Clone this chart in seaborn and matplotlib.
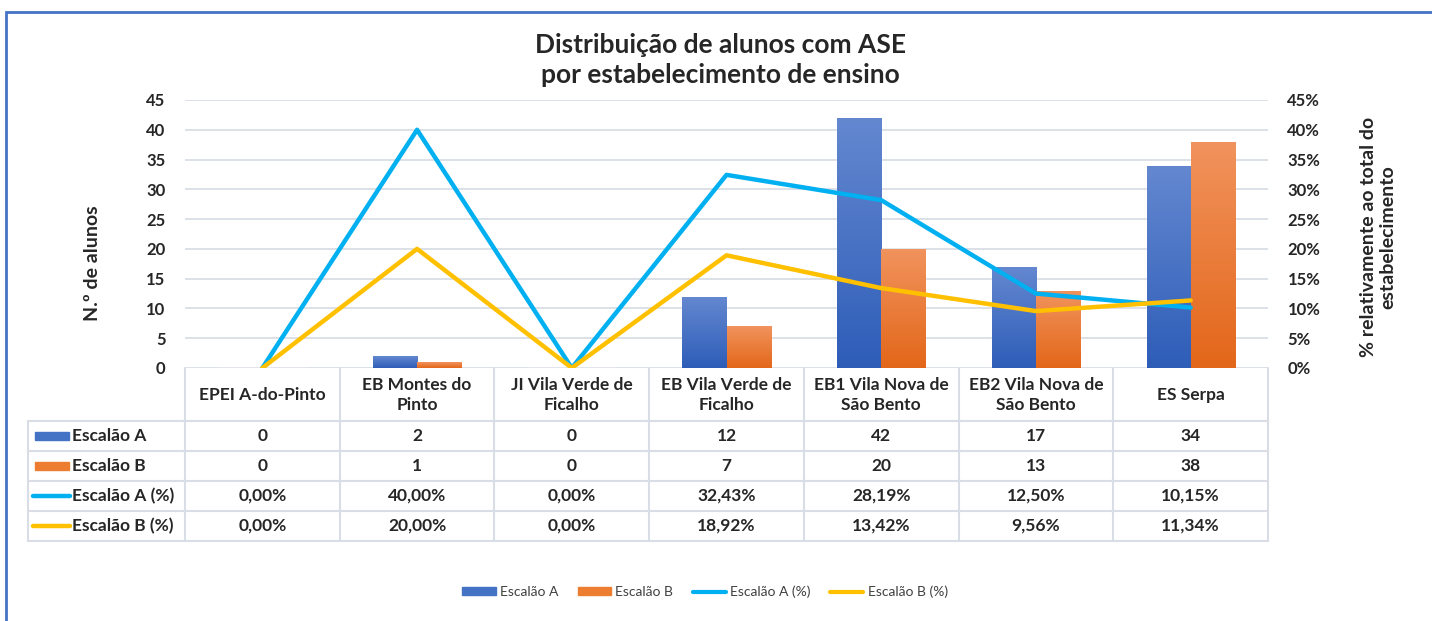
import numpy as np
import pandas as pd
import seaborn as sns
import matplotlib.pyplot as plt
from matplotlib.patches import Patch, Rectangle
from matplotlib.lines import Line2D
from matplotlib.colors import LinearSegmentedColormap
from matplotlib.transforms import blended_transform_factory

# dados
escolas = ['EPEI A-do-Pinto', 'EB Montes do\nPinto', 'JI Vila Verde de\nFicalho',
           'EB Vila Verde de\nFicalho', 'EB1 Vila Nova de\nSão Bento',
           'EB2 Vila Nova de\nSão Bento', 'ES Serpa']
escalao_a = [0, 2, 0, 12, 42, 17, 34]
escalao_b = [0, 1, 0, 7, 20, 13, 38]
escalao_a_pct = [0.0, 40.0, 0.0, 32.43, 28.19, 12.50, 10.15]
escalao_b_pct = [0.0, 20.0, 0.0, 18.92, 13.42, 9.56, 11.34]
series = ['Escalão A', 'Escalão B', 'Escalão A (%)', 'Escalão B (%)']

cor_a, cor_b = '#4472C4', '#ED7D31'
cor_a_pct, cor_b_pct = '#00B0F0', '#FFC000'
cor_grelha = '#D9DEE6'

sns.set_theme(style='white')
plt.rcParams['font.family'] = ['Lato', 'DejaVu Sans']

W, H = 1432, 621
fig = plt.figure(figsize=(W / 100, H / 100), dpi=100)
ax = fig.add_axes([185 / W, 1 - 368 / H, 1083 / W, 268 / H])

barras = pd.DataFrame({
    'escola': escolas * 2,
    'alunos': escalao_a + escalao_b,
    'serie': [series[0]] * len(escolas) + [series[1]] * len(escolas),
})
sns.barplot(data=barras, x='escola', y='alunos', hue='serie', palette=[cor_a, cor_b],
            saturation=1, width=0.57, gap=0, legend=False, ax=ax, zorder=2)

# gradiente nas barras (estilo Excel)
gradientes = [LinearSegmentedColormap.from_list('ga', ['#2E5DB8', '#6488D0']),
              LinearSegmentedColormap.from_list('gb', ['#E3671A', '#F1935D'])]
n = len(escolas)
for idx, p in enumerate(list(ax.patches)):
    cmap = gradientes[idx // n]
    x0, y0 = p.get_x(), p.get_y()
    w, h = p.get_width(), p.get_height()
    if h <= 0:
        continue
    im = ax.imshow(np.linspace(1, 0, 100).reshape(-1, 1),
                   extent=[x0, x0 + w, y0, y0 + h], cmap=cmap, aspect='auto', zorder=2)
    im.set_clip_path(p)
    p.set_facecolor('none')

ax.set_xlim(-0.5, n - 0.5)
ax.set_ylim(0, 45)
ax.set_yticks(range(0, 46, 5))
ax.set_xticks([])
ax.set_xlabel('')
ax.grid(axis='y', color=cor_grelha, lw=1.3, zorder=0)
ax.set_axisbelow(True)
for s in ax.spines.values():
    s.set_visible(False)
ax.tick_params(axis='y', length=0, pad=14, labelsize=12)
for t in ax.get_yticklabels():
    t.set_fontweight('bold')
ax.set_ylabel('N.º de alunos', fontsize=14, fontweight='bold')
ax.yaxis.set_label_coords(-0.078, 0.39)

ax2 = ax.twinx()
linhas = pd.DataFrame({
    'pos': list(range(n)) * 2,
    'pct': escalao_a_pct + escalao_b_pct,
    'serie': [series[2]] * n + [series[3]] * n,
})
sns.lineplot(data=linhas, x='pos', y='pct', hue='serie', palette=[cor_a_pct, cor_b_pct],
             lw=3.2, legend=False, ax=ax2, zorder=3)
ax2.set_ylim(0, 45)
ax2.set_yticks(range(0, 46, 5))
ax2.set_yticklabels([f'{v}%' for v in range(0, 46, 5)])
ax2.set_xlim(-0.5, n - 0.5)
for s in ax2.spines.values():
    s.set_visible(False)
ax2.tick_params(axis='y', length=0, pad=14, labelsize=12)
for t in ax2.get_yticklabels():
    t.set_fontweight('bold')
ax2.set_ylabel('% relativamente ao total do\nestabelecimento', fontsize=14,
               fontweight='bold', linespacing=1.15)
ax2.yaxis.set_label_coords(1.085, 0.49)

# tabela de dados
tr = blended_transform_factory(ax.transData, fig.transFigure)
fy = lambda y: 1 - y / H
fx = lambda x: x / W
linhas_y = [421, 451, 481, 511, 541]
for k in range(n + 1):
    fig.add_artist(Line2D([k - 0.5, k - 0.5], [fy(368), fy(541)], transform=tr,
                          color=cor_grelha, lw=1.5))
fig.add_artist(Line2D([fx(28), fx(28)], [fy(421), fy(541)], transform=fig.transFigure,
                      color=cor_grelha, lw=1.5))
for y in linhas_y:
    fig.add_artist(Line2D([fx(28), fx(185)], [fy(y), fy(y)], transform=fig.transFigure,
                          color=cor_grelha, lw=1.5))
    fig.add_artist(Line2D([-0.5, n - 0.5], [fy(y), fy(y)], transform=tr,
                          color=cor_grelha, lw=1.5))

for i, nome in enumerate(escolas):
    fig.text(i, fy(395), nome, transform=tr, ha='center', va='center',
             fontsize=12.5, fontweight='bold', linespacing=1.25)

valores = [
    [str(v) for v in escalao_a],
    [str(v) for v in escalao_b],
    [f'{v:.2f}%'.replace('.', ',') for v in escalao_a_pct],
    [f'{v:.2f}%'.replace('.', ',') for v in escalao_b_pct],
]
cores = [cor_a, cor_b, cor_a_pct, cor_b_pct]
for r in range(4):
    yc = (linhas_y[r] + linhas_y[r + 1]) / 2
    if r < 2:
        fig.add_artist(Rectangle((fx(35), fy(yc + 4)), fx(34), 8 / H,
                                 transform=fig.transFigure, color=cores[r]))
    else:
        fig.add_artist(Line2D([fx(33), fx(70)], [fy(yc), fy(yc)], transform=fig.transFigure,
                              color=cores[r], lw=3.2, solid_capstyle='round'))
    fig.text(fx(72), fy(yc), series[r], ha='left', va='center', fontsize=12.5,
             fontweight='bold')
    for i in range(n):
        fig.text(i, fy(yc), valores[r][i], transform=tr, ha='center', va='center',
                 fontsize=12.5, fontweight='bold')

fig.suptitle('Distribuição de alunos com ASE\npor estabelecimento de ensino', x=0.503,
             y=fy(33), va='top', fontsize=19, fontweight='bold', linespacing=1.32)

handles = [Patch(color=cor_a), Patch(color=cor_b),
           Line2D([], [], color=cor_a_pct, lw=3), Line2D([], [], color=cor_b_pct, lw=3)]
leg = fig.legend(handles, series, loc='center', bbox_to_anchor=(fx(705), fy(592)), ncol=4,
                 frameon=False, fontsize=10, handlelength=2.4, handleheight=0.5,
                 handletextpad=0.3, columnspacing=1.4)
for t in leg.get_texts():
    t.set_color('#404040')

# moldura azul do grafico
fig.add_artist(Rectangle((fx(6), -0.2), 1.2, fy(12) + 0.2, transform=fig.transFigure,
                         fill=False, edgecolor='#4472C4', lw=2))

fig.savefig('out.png', dpi=100)
